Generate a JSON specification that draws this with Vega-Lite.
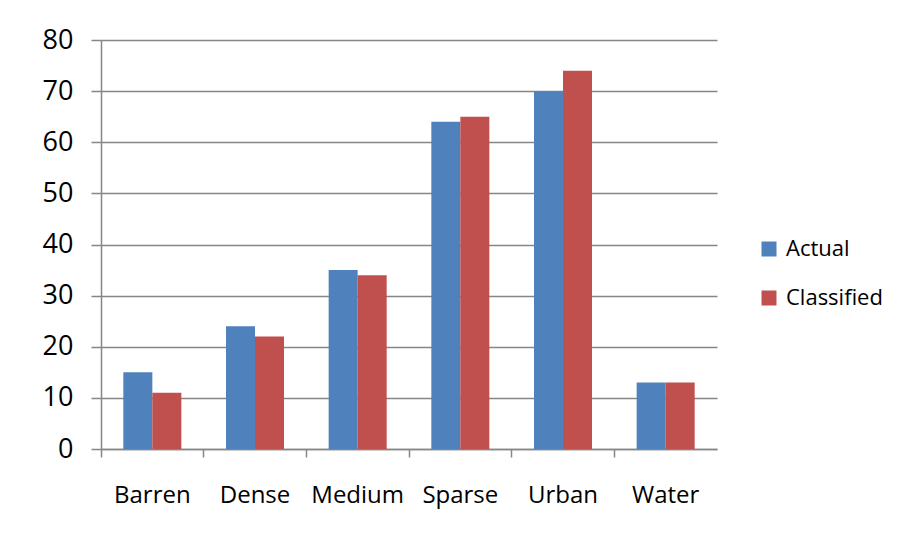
{
  "$schema": "https://vega.github.io/schema/vega-lite/v6.json",
  "width": 616,
  "height": 409,
  "autosize": "none",
  "padding": {"left": 101, "top": 40, "right": 182, "bottom": 89},
  "background": "white",
  "data": {
    "values": [
      {"cover": "Barren", "series": "Actual", "value": 15},
      {"cover": "Barren", "series": "Classified", "value": 11},
      {"cover": "Dense", "series": "Actual", "value": 24},
      {"cover": "Dense", "series": "Classified", "value": 22},
      {"cover": "Medium", "series": "Actual", "value": 35},
      {"cover": "Medium", "series": "Classified", "value": 34},
      {"cover": "Sparse", "series": "Actual", "value": 64},
      {"cover": "Sparse", "series": "Classified", "value": 65},
      {"cover": "Urban", "series": "Actual", "value": 70},
      {"cover": "Urban", "series": "Classified", "value": 74},
      {"cover": "Water", "series": "Actual", "value": 13},
      {"cover": "Water", "series": "Classified", "value": 13}
    ]
  },
  "mark": {"type": "bar"},
  "encoding": {
    "x": {
      "field": "cover",
      "type": "nominal",
      "sort": ["Barren", "Dense", "Medium", "Sparse", "Urban", "Water"],
      "scale": {"paddingInner": 0, "paddingOuter": 0},
      "axis": {
        "title": null,
        "labelAngle": 0,
        "bandPosition": 0,
        "tickSize": 8,
        "labelPadding": 26,
        "labelFontSize": 24,
        "grid": false
      }
    },
    "xOffset": {
      "field": "series",
      "type": "nominal",
      "sort": ["Actual", "Classified"],
      "scale": {"paddingInner": 0, "paddingOuter": 0.77}
    },
    "y": {
      "field": "value",
      "type": "quantitative",
      "scale": {"domain": [0, 80], "nice": false},
      "axis": {
        "title": null,
        "values": [0, 10, 20, 30, 40, 50, 60, 70, 80],
        "tickSize": 10,
        "labelPadding": 18,
        "labelFontSize": 27,
        "grid": true
      }
    },
    "color": {
      "field": "series",
      "type": "nominal",
      "scale": {"domain": ["Actual", "Classified"], "range": ["#4F81BD", "#C0504D"]},
      "legend": {
        "title": null,
        "orient": "none",
        "legendX": 657,
        "legendY": 198,
        "padding": 0,
        "symbolType": "square",
        "symbolSize": 225,
        "symbolStrokeWidth": 0,
        "labelFontSize": 22,
        "labelOffset": 6,
        "rowPadding": 27,
        "labelColor": "black"
      }
    }
  },
  "config": {
    "view": {"stroke": null},
    "font": "Open Sans",
    "axis": {
      "domainColor": "#868686",
      "domainWidth": 1.5,
      "tickColor": "#868686",
      "tickWidth": 1.5,
      "gridColor": "#868686",
      "gridWidth": 1.5,
      "gridOpacity": 1,
      "labelColor": "black",
      "labelFont": "Open Sans"
    },
    "legend": {"labelFont": "Open Sans"}
  }
}
